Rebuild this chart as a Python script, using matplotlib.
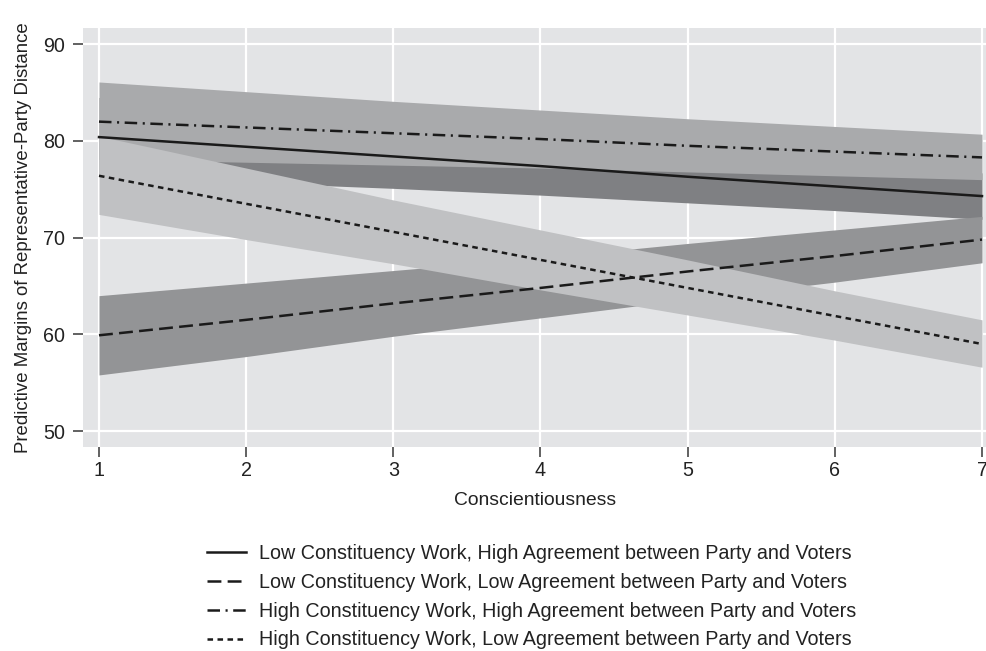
import matplotlib
matplotlib.use("Agg")
import matplotlib.pyplot as plt

plt.rcParams['font.family'] = ['Liberation Sans', 'DejaVu Sans']
plt.rcParams['lines.scale_dashes'] = False

conscientiousness = [1, 2, 3, 4, 5, 6, 7]

# Low Constituency Work, High Agreement (solid)
lchA_mean = [80.4, 79.4, 78.4, 77.4, 76.3, 75.3, 74.3]
lchA_lo = [76.3, 75.7, 75.1, 74.4, 73.6, 72.8, 71.9]
lchA_hi = [84.5, 83.1, 81.7, 80.4, 79.0, 77.8, 76.7]

# Low Constituency Work, Low Agreement (dashed)
lclA_mean = [59.9, 61.5, 63.2, 64.8, 66.5, 68.1, 69.8]
lclA_lo = [55.8, 57.7, 59.8, 61.7, 63.6, 65.4, 67.4]
lclA_hi = [64.0, 65.3, 66.6, 67.9, 69.4, 70.8, 72.2]

# High Constituency Work, High Agreement (dash-dot)
hchA_mean = [82.0, 81.4, 80.8, 80.2, 79.5, 78.9, 78.3]
hchA_lo = [78.1, 77.8, 77.5, 77.2, 76.8, 76.4, 76.0]
hchA_hi = [86.1, 85.1, 84.1, 83.2, 82.3, 81.5, 80.7]

# High Constituency Work, Low Agreement (dotted)
hclA_mean = [76.4, 73.5, 70.6, 67.7, 64.8, 61.9, 59.0]
hclA_lo = [72.4, 69.8, 67.3, 64.6, 62.0, 59.4, 56.6]
hclA_hi = [80.5, 77.2, 73.9, 70.8, 67.7, 64.5, 61.5]

labels = [
    "Low Constituency Work, High Agreement between Party and Voters",
    "Low Constituency Work, Low Agreement between Party and Voters",
    "High Constituency Work, High Agreement between Party and Voters",
    "High Constituency Work, Low Agreement between Party and Voters",
]
x_ticks = [1, 2, 3, 4, 5, 6, 7]
y_ticks = [50, 60, 70, 80, 90]

fs = 14.2

fig = plt.figure(figsize=(9.87, 6.51), dpi=100)
ax = fig.add_axes([83 / 987, 1 - 447 / 651, 1 - 83 / 987, (447 - 28) / 651])
ax.set_facecolor('#e3e4e6')

# bands (opaque, drawn in order)
ax.fill_between(conscientiousness, lchA_lo, lchA_hi, color='#7f8083', lw=0, zorder=2)
ax.fill_between(conscientiousness, hchA_lo, hchA_hi, color='#a9aaac', lw=0, zorder=3)
ax.fill_between(conscientiousness, lclA_lo, lclA_hi, color='#939496', lw=0, zorder=4)
ax.fill_between(conscientiousness, hclA_lo, hclA_hi, color='#c0c1c3', lw=0, zorder=5)

lc = '#1a1a1a'
styles = ['-', (0, (10, 4.5)), (0, (9, 4, 1.5, 4)), (0, (4, 3.2))]
means = [lchA_mean, lclA_mean, hchA_mean, hclA_mean]
handles = []
for m, s, lab in zip(means, styles, labels):
    ln, = ax.plot(conscientiousness, m, color=lc, lw=1.8, ls=s, zorder=6, label=lab)
    handles.append(ln)

ax.set_xlim(1 - 16 / 147.17, 7 + 5 / 147.17)
ax.set_ylim(50 - 16 / 9.675, 90 + 16.3 / 9.675)
ax.set_xticks(x_ticks)
ax.set_yticks(y_ticks)
ax.grid(True, color='white', lw=1.6, zorder=1)
ax.set_axisbelow(True)
for sp in ax.spines.values():
    sp.set_visible(False)
ax.tick_params(axis='both', direction='out', length=7, width=1.3, color='#555555',
               labelsize=fs, labelcolor='#222222')
ax.tick_params(axis='y', pad=6)
ax.tick_params(axis='x', pad=3)
ax.set_xlabel('Conscientiousness', fontsize=13.9, color='#222222', labelpad=9)
ax.set_ylabel('Predictive Margins of Representative-Party Distance', fontsize=13.4,
              color='#222222', labelpad=8)

fig.legend(handles=handles, labels=labels, loc='upper left',
           bbox_to_anchor=(199 / 987, 1 - 536 / 651), frameon=False,
           fontsize=fs, handlelength=2.0, handletextpad=0.62, labelspacing=0.5,
           borderaxespad=0, labelcolor='#222222')

fig.savefig('out.png', dpi=100)
